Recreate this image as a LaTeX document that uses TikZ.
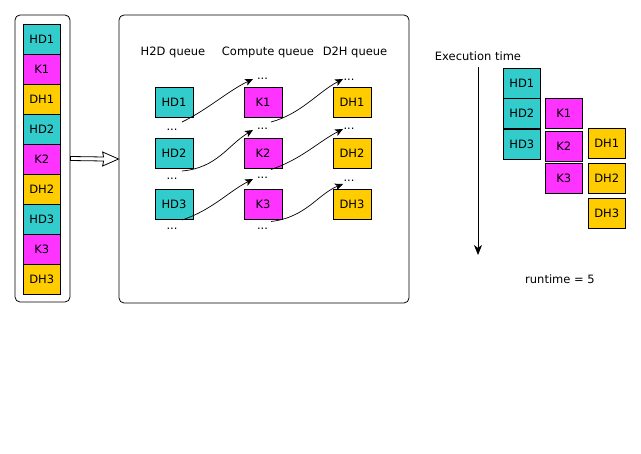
\documentclass[tikz,border=0pt]{standalone}
\usepackage{fontspec}
\setmainfont{DejaVu Sans}
\usetikzlibrary{arrows.meta,calc}
\definecolor{hdc}{RGB}{51,204,204}
\definecolor{kc}{RGB}{255,51,255}
\definecolor{dhc}{RGB}{255,204,0}
\begin{document}
\begin{tikzpicture}[x=1pt,y=-1pt,
  txt/.style={font=\fontsize{11.5}{13}\selectfont, inner sep=0pt},
  blk/.style={txt, draw=black, line width=0.8pt, minimum width=37pt, minimum height=30pt},
  hdbox/.style={blk, fill=hdc},
  kbox/.style={blk, fill=kc},
  dhbox/.style={blk, fill=dhc},
  panel/.style={draw=black, line width=0.8pt, rounded corners=5pt, inner sep=0pt},
  dots/.style={txt},
  flow/.style={draw=black, line width=0.7pt, -{Stealth[length=8pt,width=7pt,inset=2pt]}}]
\useasboundingbox (0,0) rectangle (641,454);

% left panel
\node[panel, minimum width=55pt, minimum height=287pt] (left) at (42.5,158.5) {};
\foreach \n/\s [count=\i from 0] in {HD1/hdbox,K1/kbox,DH1/dhbox,HD2/hdbox,K2/kbox,DH2/dhbox,HD3/hdbox,K3/kbox,DH3/dhbox}
  \node[\s] (L\n) at (41.8,{39.3+30*\i}) {\n};

% middle panel
\node[panel, minimum width=290pt, minimum height=288pt] (mid) at (264,159) {};

% hollow double arrow between panels
\coordinate (ta) at (left.east);
\coordinate (tb) at (mid.west);
\draw[line width=0.8pt, fill=white] ($(ta)+(0,-2)$) -- ($(tb)+(-15,-2)$) -- ($(tb)+(-16,-7)$) -- (tb)
  -- ($(tb)+(-16,7)$) -- ($(tb)+(-15,2)$) -- ($(ta)+(0,2)$) -- cycle;

\node[txt] (q1) at (173,52.5) {H2D queue};
\node[txt] (q2) at (268,52.5) {Compute queue};
\node[txt] (q3) at (355,52.5) {D2H queue};

\node[hdbox, minimum width=38pt] (HD1) at (174,102.5) {HD1};
\node[hdbox, minimum width=38pt] (HD2) at (174,153.5) {HD2};
\node[hdbox, minimum width=38pt] (HD3) at (174,204.5) {HD3};
\node[kbox, minimum width=38pt] (K1) at (263,102.5) {K1};
\node[kbox, minimum width=38pt] (K2) at (263,153.5) {K2};
\node[kbox, minimum width=38pt] (K3) at (263,204.5) {K3};
\node[dhbox, minimum width=38pt] (DH1) at (352,102.5) {DH1};
\node[dhbox, minimum width=38pt] (DH2) at (352,153.5) {DH2};
\node[dhbox, minimum width=38pt] (DH3) at (352,204.5) {DH3};

\node[dots] (h1) at (172,130) {...};
\node[dots] (h2) at (172,179) {...};
\node[dots] (h3) at (172,229) {...};
\node[dots] (k0) at (262.5,79) {...};
\node[dots] (k1) at (262.5,129) {...};
\node[dots] (k2) at (262.5,178) {...};
\node[dots] (k3) at (262.5,229) {...};
\node[dots] (d0) at (349,80) {...};
\node[dots] (d1) at (349,129) {...};
\node[dots] (d2) at (349,181) {...};

\coordinate (s1) at (182,122);   \coordinate (e1) at (253,79);
\coordinate (s2) at (182,171);   \coordinate (e2) at (253,130);
\coordinate (s3) at (182,220);   \coordinate (e3) at (253,179);
\coordinate (s4) at (271,122);   \coordinate (e4) at (343,79);
\coordinate (s5) at (271,169.5); \coordinate (e5) at (343,129);
\coordinate (s6) at (271,221.5); \coordinate (e6) at (343,184);
\draw[flow] (s1) .. controls +(25,-12) and +(-25,12) .. (e1);
\draw[flow] (s2) .. controls +(35,-3) and +(-25,15) .. (e2);
\draw[flow] (s3) .. controls +(30,-10) and +(-25,13) .. (e3);
\draw[flow] (s4) .. controls +(30,-8) and +(-25,13) .. (e4);
\draw[flow] (s5) .. controls +(30,-10) and +(-25,13) .. (e5);
\draw[flow] (s6) .. controls +(35,-4) and +(-25,10) .. (e6);

% right: timeline
\node[txt] (et) at (478,56.7) {Execution time};
\coordinate (ttop) at (478,67);
\coordinate (tbot) at (478,255);
\draw[line width=0.8pt, -{Stealth[length=10pt,width=8pt,inset=3pt]}] (ttop) -- (tbot);

\node[hdbox] (THD1) at (521.8,83.3) {HD1};
\node[hdbox] (THD2) at (521.8,113.3) {HD2};
\node[hdbox] (THD3) at (521.8,144.3) {HD3};
\node[kbox] (TK1) at (563.8,113.7) {K1};
\node[kbox] (TK2) at (563.8,146.3) {K2};
\node[kbox] (TK3) at (563.8,178.3) {K3};
\node[dhbox] (TDH1) at (606.8,143.3) {DH1};
\node[dhbox] (TDH2) at (606.8,178.3) {DH2};
\node[dhbox] (TDH3) at (606.8,213.3) {DH3};

\node[txt] (rt) at (560,279.3) {runtime = 5};
\end{tikzpicture}
\end{document}
